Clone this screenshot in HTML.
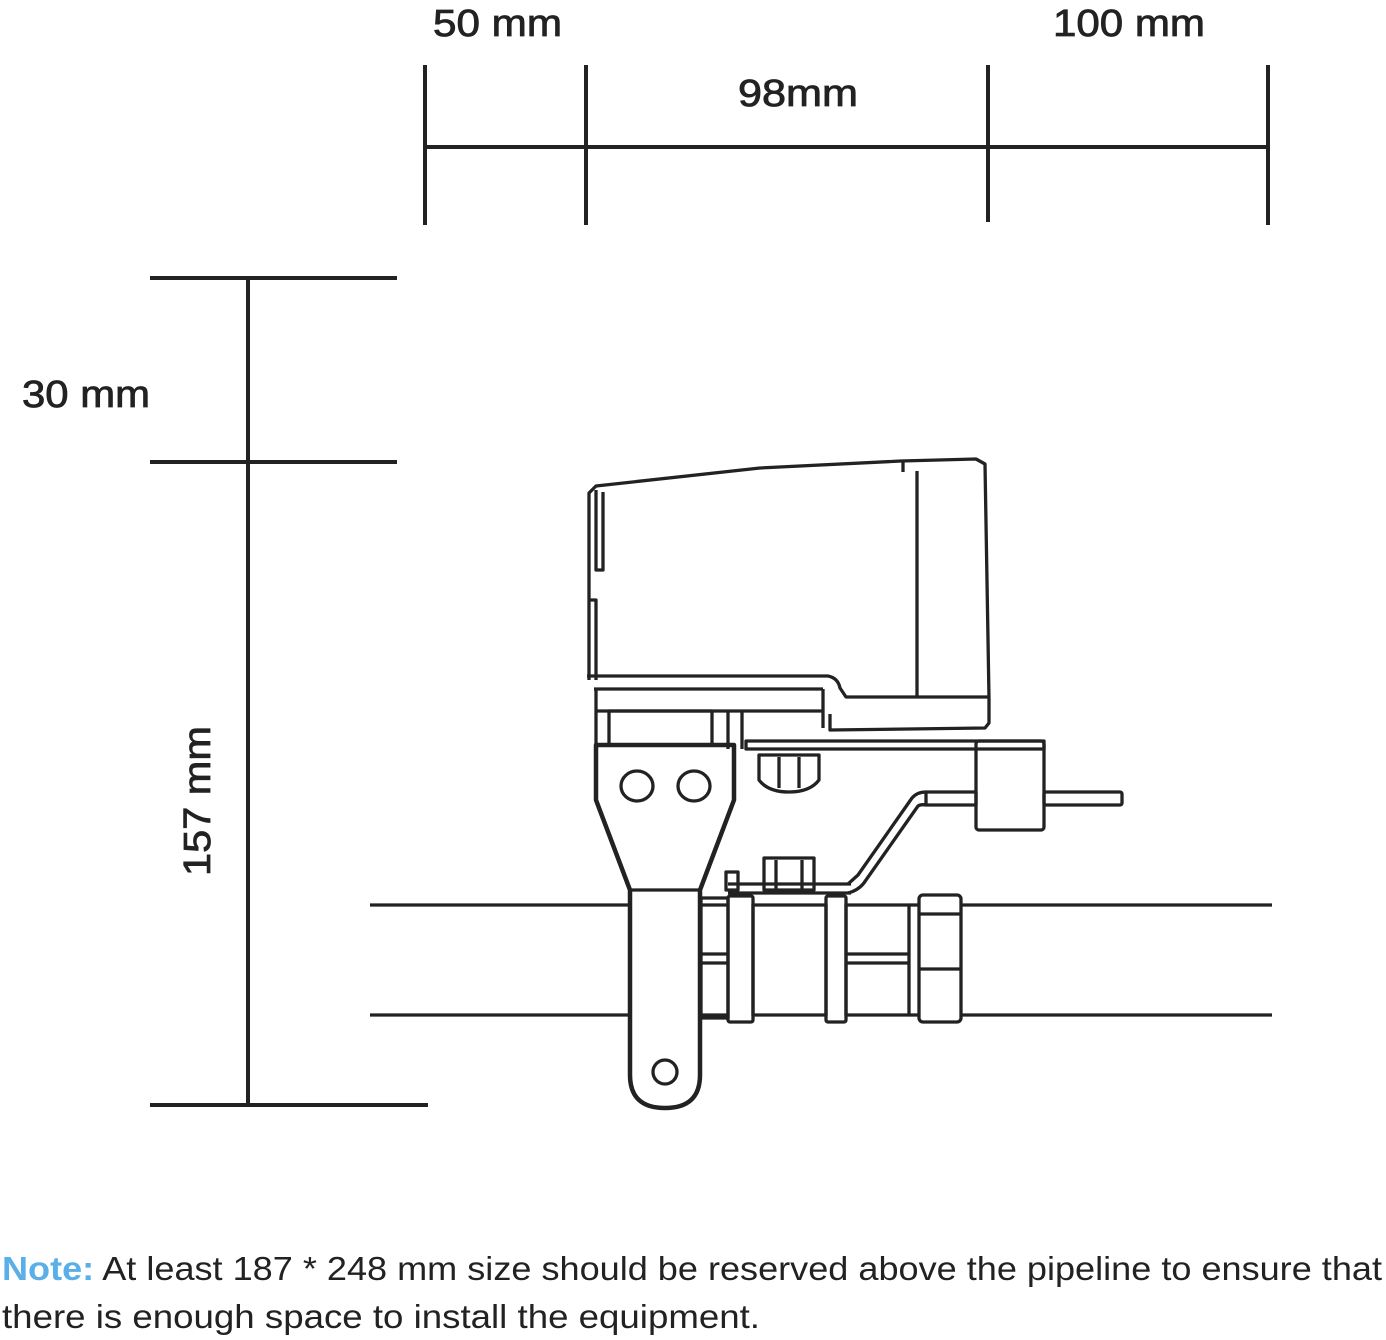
<!DOCTYPE html>
<html><head><meta charset="utf-8"><style>
html,body{margin:0;padding:0;background:#fff;}
svg{display:block;}
</style></head><body>
<svg width="1386" height="1340" viewBox="0 0 1386 1340" xmlns="http://www.w3.org/2000/svg" font-family="Liberation Sans, sans-serif">
<g stroke="#222" stroke-width="4" fill="none">
<line x1="425" y1="147" x2="1268" y2="147"/>
<line x1="425" y1="65" x2="425" y2="225"/>
<line x1="586" y1="65" x2="586" y2="225"/>
<line x1="988" y1="65" x2="988" y2="222"/>
<line x1="1268" y1="65" x2="1268" y2="225"/>
<line x1="248" y1="278" x2="248" y2="1105"/>
<line x1="150" y1="278" x2="397" y2="278"/>
<line x1="150" y1="462" x2="397" y2="462"/>
<line x1="150" y1="1105" x2="428" y2="1105"/>
</g>
<g fill="#222" font-size="38" stroke="#222" stroke-width="0.8" lengthAdjust="spacingAndGlyphs">
<text x="433" y="36" textLength="129" lengthAdjust="spacingAndGlyphs">50 mm</text>
<text x="738" y="106" textLength="120" lengthAdjust="spacingAndGlyphs">98mm</text>
<text x="1053" y="36" textLength="152" lengthAdjust="spacingAndGlyphs">100 mm</text>
<text x="22" y="407" textLength="128" lengthAdjust="spacingAndGlyphs">30 mm</text>
<text transform="translate(210,876) rotate(-90)" textLength="150" lengthAdjust="spacingAndGlyphs">157 mm</text>
</g>
<g stroke="#222" stroke-width="3.3" fill="none" stroke-linejoin="round">
<line x1="370" y1="905" x2="630" y2="905"/><line x1="960" y1="905" x2="1272" y2="905"/>
<line x1="370" y1="1015" x2="630" y2="1015"/><line x1="960" y1="1015" x2="1272" y2="1015"/>
<line x1="700" y1="905" x2="728" y2="905"/><line x1="700" y1="1015" x2="728" y2="1015"/>
<path d="M589,680 L589,493 L596,486 L760,468 L901,461 L976,459 L985,464 L989,698 L989,723 L985,728 L830,730 L830,714"/>
<path d="M596,490 L596,570 L603,570 L603,492"/>
<path d="M589,600 L596,600 L596,680"/>
<line x1="917" y1="471" x2="917" y2="698"/>
<line x1="903" y1="461" x2="903" y2="472"/>
<path d="M587,676 L828,676 Q838,678 840,688 L846,697 L989,697"/>
<line x1="594" y1="689" x2="823" y2="689"/>
<line x1="596" y1="711" x2="823" y2="711"/>
<line x1="823" y1="689" x2="823" y2="728"/>
<path d="M596,689 L596,745"/>
<rect x="609" y="711" width="103" height="34"/>
<line x1="728" y1="711" x2="728" y2="749"/>
<line x1="742" y1="711" x2="742" y2="749"/>
<rect x="746" y="741" width="298" height="8"/>
<rect x="976" y="741" width="68" height="89" rx="3"/>
<rect x="926" y="792" width="50" height="13"/>
<rect x="1044" y="792" width="78" height="13" rx="2"/>
<path d="M759,755 L819,755 L819,780 Q810,792 789,792 Q768,792 759,780 Z"/>
<line x1="779" y1="757" x2="779" y2="788"/><line x1="799" y1="757" x2="799" y2="788"/>
<path d="M596,745 L734,745 L734,800 L700,890 L700,1075 Q700,1108 665,1108 Q630,1108 630,1075 L630,890 L596,800 Z" stroke-width="4.5"/>
<line x1="630" y1="890" x2="700" y2="890"/>
<ellipse cx="637" cy="786" rx="16" ry="15"/>
<ellipse cx="694" cy="786" rx="16" ry="15"/>
<circle cx="665" cy="1072" r="12"/>
<rect x="701" y="898" width="27" height="120"/>
<line x1="701" y1="954" x2="728" y2="954"/><line x1="701" y1="963" x2="728" y2="963"/>
<rect x="728" y="896" width="25" height="126" rx="2"/>
<rect x="753" y="905" width="73" height="110"/>
<rect x="826" y="896" width="20" height="126" rx="2"/>
<rect x="846" y="905" width="63" height="110"/>
<line x1="846" y1="954" x2="909" y2="954"/><line x1="846" y1="963" x2="909" y2="963"/>
<rect x="919" y="895" width="42" height="127" rx="4"/>
<line x1="919" y1="914" x2="961" y2="914"/><line x1="919" y1="969" x2="961" y2="969"/>
<line x1="909" y1="905" x2="919" y2="905"/><line x1="909" y1="1015" x2="919" y2="1015"/>
<rect x="726" y="872" width="12" height="18"/>
<path d="M728,884 L851,884"/><path d="M728,893 L851,893"/>
<rect x="764" y="858" width="50" height="32"/>
<line x1="776" y1="860" x2="776" y2="890"/><line x1="802" y1="860" x2="802" y2="890"/>
<path d="M848,884 L858,875 L912,798 Q917,792 926,792"/>
<path d="M848,893 Q860,890 866,880 L918,806 Q921,804 926,805"/>
</g>
<text x="2" y="1280" font-size="33" fill="#222" textLength="1380" lengthAdjust="spacingAndGlyphs"><tspan fill="#5aafe8" font-weight="bold">Note:</tspan> At least 187 * 248 mm size should be reserved above the pipeline to ensure that</text>
<text x="2" y="1328" font-size="33" fill="#222" textLength="758" lengthAdjust="spacingAndGlyphs">there is enough space to install the equipment.</text>
</svg>
</body></html>
